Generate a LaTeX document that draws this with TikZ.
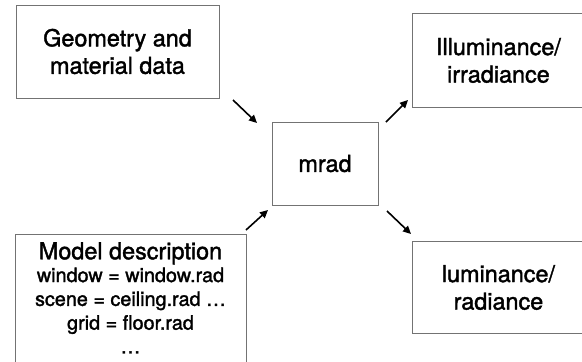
\documentclass[tikz,border=0pt]{standalone}
\usepackage{fontspec}
\setmainfont{TeX Gyre Heros}[RawFeature={embolden=1.6}]
\usetikzlibrary{arrows.meta}
\begin{document}
\begin{tikzpicture}[x=1pt,y=-1pt,
  box/.style={draw=black!55, line width=0.9pt, rectangle, inner sep=0pt, align=center},
  big/.style={font=\fontsize{23.4}{27.5}\selectfont},
  arr/.style={-{Triangle[length=8pt,width=7.5pt]}, line width=1.6pt, black}]
\useasboundingbox (0,0) rectangle (582,362);
\clip (0,0) rectangle (582,362);
\fill[white] (0,0) rectangle (582,362);
\node[box,big,minimum width=203pt,minimum height=93pt] (geom) at (117.5,51.5) {Geometry and\\material data};
\node[box,big,minimum width=106pt,minimum height=83pt] (mrad) at (325,163.5) {mrad};
\node[box,big,minimum width=172pt,minimum height=94pt,anchor=north west] (illum) at (412,13) {Illuminance/\\irradiance};
\node[box,big,minimum width=172pt,minimum height=92pt,anchor=north west] (lum) at (412,241) {luminance/\\radiance};
\node[box,minimum width=231pt,minimum height=160pt,anchor=north] (model) at (130.5,234) {};
\node[anchor=north,align=center,inner sep=0pt,font=\fontsize{19.8}{23.8}\selectfont] (modeltxt) at ([yshift=-8pt]model.north) {\fontsize{23.4}{25}\selectfont Model description\\[-1pt]
\fontsize{19.8}{23.8}\selectfont window = window.rad\\scene = ceiling.rad …\\grid = floor.rad\\…};
\coordinate (a1s) at (233,100);
\coordinate (a1e) at (257,123);
\coordinate (a2s) at (386,122);
\coordinate (a2e) at (408,100);
\coordinate (a3s) at (246,230);
\coordinate (a3e) at (268,210);
\coordinate (a4s) at (387,211);
\coordinate (a4e) at (411,234);
\draw[arr] (a1s) -- (a1e);
\draw[arr] (a2s) -- (a2e);
\draw[arr] (a3s) -- (a3e);
\draw[arr] (a4s) -- (a4e);
\end{tikzpicture}
\end{document}
